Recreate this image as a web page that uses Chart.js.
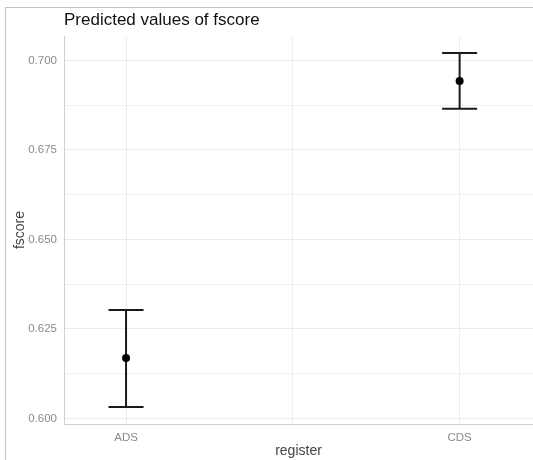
<!DOCTYPE html>
<html>
<head>
<meta charset="utf-8">
<script src="https://cdn.jsdelivr.net/npm/chart.js@4/dist/chart.umd.min.js"></script>
<style>
  html, body { margin: 0; padding: 0; background: #fff; overflow: hidden; }
  #c { position: absolute; left: 0; top: 0; }
  #frame { position: absolute; left: 5px; top: 7px; width: 528px; height: 453px;
           border-left: 1px solid #c4c4c4; border-top: 1px solid #c4c4c4; pointer-events: none; box-sizing: border-box; }
</style>
</head>
<body>
<canvas id="c" width="533" height="460"></canvas>
<div id="frame"></div>
<script>
// ---- data ----
const categories = ['ADS', 'CDS'];
const predicted  = [0.6169, 0.6943];
const lowerCI    = [0.6032, 0.6865];
const upperCI    = [0.6303, 0.7021];
const yTickValues = [0.600, 0.625, 0.650, 0.675, 0.700];
const yTickLabels = ['0.600', '0.625', '0.650', '0.675', '0.700'];
const yMinorValues = [0.6125, 0.6375, 0.6625, 0.6875];
const xMinorValues = [0.5];

const FONT = '"Liberation Sans", Arial, Helvetica, sans-serif';
const ink = '#1a1a1a';

const datasets = [];
categories.forEach((cat, i) => {
  // vertical error line
  datasets.push({
    type: 'line',
    data: [{x: i, y: lowerCI[i]}, {x: i, y: upperCI[i]}],
    borderColor: ink, borderWidth: 2, pointRadius: 0, fill: false, order: 3
  });
  // caps
  datasets.push({
    type: 'scatter',
    data: [{x: i, y: lowerCI[i]}, {x: i, y: upperCI[i]}],
    pointStyle: 'line', pointRadius: 17.5, borderColor: ink, borderWidth: 2, order: 2
  });
});
// predicted points
datasets.push({
  type: 'scatter',
  data: categories.map((c, i) => ({x: i, y: predicted[i]})),
  pointStyle: 'circle', pointRadius: 4, backgroundColor: '#000', borderColor: '#000', borderWidth: 0, order: 1
});

const xTicksAll = [0, 1].concat(xMinorValues).sort((a, b) => a - b);
const yTicksAll = yTickValues.concat(yMinorValues).sort((a, b) => a - b);

new Chart(document.getElementById('c'), {
  type: 'scatter',
  data: { datasets },
  options: {
    responsive: false,
    animation: false,
    layout: { autoPadding: false, padding: { left: 0, right: 0, top: 0, bottom: 0 } },
    plugins: {
      legend: { display: false },
      tooltip: { enabled: false },
      title: {
        display: true,
        text: 'Predicted values of fscore',
        align: 'start',
        fullSize: false,
        color: '#111',
        font: { family: FONT, size: 17, weight: 'normal' },
        padding: { top: 10, bottom: 5.6 }
      }
    },
    scales: {
      x: {
        type: 'linear',
        min: -0.186, max: 1.22,
        afterBuildTicks: (s) => { s.ticks = xTicksAll.map(v => ({value: v})); },
        afterFit: (s) => { s.height = 36; s.paddingRight = 0; s.paddingLeft = 0; },
        ticks: {
          autoSkip: false, maxRotation: 0, padding: 7,
          color: '#8a8a8a',
          font: { family: FONT, size: 11.5 },
          callback: (v) => { const idx = [0, 1].indexOf(v); return idx >= 0 ? categories[idx] : ''; }
        },
        grid: {
          drawTicks: false,
          color: (ctx) => (ctx.tick && xMinorValues.includes(ctx.tick.value)) ? '#f0f0f0' : '#ebebeb',
          lineWidth: 1
        },
        border: { display: true, color: '#cfcfcf', width: 1 },
        title: {
          display: true, text: 'register', color: '#444',
          font: { family: FONT, size: 14 },
          padding: { top: 0, bottom: 0 }
        }
      },
      y: {
        type: 'linear',
        min: 0.59846, max: 0.70684,
        afterBuildTicks: (s) => { s.ticks = yTicksAll.map(v => ({value: v})); },
        afterFit: (s) => { s.width = 64; s.paddingTop = 0; s.paddingBottom = 0; },
        ticks: {
          padding: 7,
          color: '#8a8a8a',
          font: { family: FONT, size: 11.5 },
          callback: (v) => {
            const idx = yTickValues.findIndex(t => Math.abs(t - v) < 1e-9);
            return idx >= 0 ? yTickLabels[idx] : '';
          }
        },
        grid: {
          drawTicks: false,
          color: (ctx) => (ctx.tick && yMinorValues.some(m => Math.abs(m - ctx.tick.value) < 1e-9)) ? '#f0f0f0' : '#ebebeb',
          lineWidth: 1
        },
        border: { display: true, color: '#cfcfcf', width: 1 },
        title: {
          display: true, text: 'fscore', color: '#444',
          font: { family: FONT, size: 14 },
          padding: { top: 12, bottom: 0 }
        }
      }
    }
  }
});
</script>
</body>
</html>
